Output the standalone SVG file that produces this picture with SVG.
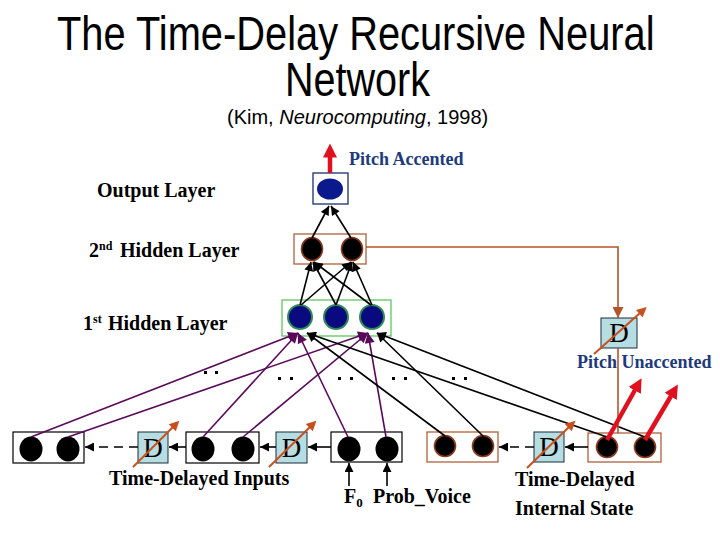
<svg xmlns="http://www.w3.org/2000/svg" width="720" height="540" viewBox="0 0 720 540">
<defs>
<style>
.ttl{font-family:"Liberation Sans",Arial,sans-serif;fill:#000}
.lbl{font-family:"Liberation Serif","Times New Roman",serif;font-weight:bold;font-size:20px;fill:#000}
.blue{font-family:"Liberation Serif","Times New Roman",serif;font-weight:bold;font-size:18px;fill:#1c3a7c}
.dl{font-family:"Liberation Serif","Times New Roman",serif;font-size:27px;fill:#000}
.box{fill:#fff;stroke:#000;stroke-width:1.2}
.bbox{fill:#fff;stroke:#b0603a;stroke-width:1.3}
.gbox{fill:#fff;stroke:#5cc85c;stroke-width:1.3}
.obox{fill:#fff;stroke:#1a2f6a;stroke-width:1.3}
.dbox{fill:#b5dde2;stroke:#1a2a3a;stroke-width:1}
.bn{fill:#000}
.brn{fill:#000;stroke:#8b3a1a;stroke-width:1.6}
.hn{fill:#0a0a80;stroke:#2e8b57;stroke-width:2}
.on{fill:#0a1a8c}
.k{stroke:#000;stroke-width:1.6;fill:none}
.p{stroke:#5a0a5a;stroke-width:1.6;fill:none}
.dash{stroke-dasharray:9 6}
.or{stroke:#c8501e;stroke-width:2;fill:none}
.br{stroke:#b5532a;stroke-width:1.6;fill:none}
.red{stroke:#e0101e;stroke-width:4.5;fill:none}
.dot{fill:#000}
</style>
<marker id="mk" viewBox="0 0 10 10" refX="10" refY="5" markerWidth="10" markerHeight="9" markerUnits="userSpaceOnUse" orient="auto"><path d="M0,0 L10,5 L0,10 z" fill="#000"/></marker>
<marker id="mp" viewBox="0 0 10 10" refX="10" refY="5" markerWidth="11" markerHeight="10" markerUnits="userSpaceOnUse" orient="auto"><path d="M0,0 L10,5 L0,10 z" fill="#5a0a5a"/></marker>
<marker id="mb" viewBox="0 0 10 10" refX="10" refY="5" markerWidth="12" markerHeight="11" markerUnits="userSpaceOnUse" orient="auto"><path d="M0,0 L10,5 L0,10 z" fill="#b5532a"/></marker>
<marker id="mo" viewBox="0 0 10 10" refX="1" refY="5" markerWidth="11" markerHeight="10" markerUnits="userSpaceOnUse" orient="auto"><path d="M0,0 L10,5 L0,10 z" fill="#c8501e"/></marker>
<marker id="mr" viewBox="0 0 14 14" refX="0.5" refY="7" markerWidth="14" markerHeight="16" markerUnits="userSpaceOnUse" orient="auto"><path d="M0,0 L14,7 L0,14 z" fill="#e0101e"/></marker>
</defs>
<rect width="720" height="540" fill="#fff"/>

<g id="title">
<text class="ttl" transform="translate(57,50) scale(0.83,1)" x="0" y="0" font-size="48">The Time-Delay Recursive Neural</text>
<text class="ttl" transform="translate(285,96) scale(0.824,1)" x="0" y="0" font-size="48">Network</text>
<text class="ttl" x="227" y="124" font-size="20">(Kim, <tspan font-style="italic">Neurocomputing</tspan>, 1998)</text>
</g>

<g id="labels">
<text class="lbl" x="97" y="197">Output Layer</text>
<text class="lbl" x="89" y="257">2<tspan font-size="12" dy="-7">nd</tspan></text>
<text class="lbl" x="120" y="257">Hidden Layer</text>
<text class="lbl" x="83" y="330">1<tspan font-size="12" dy="-7">st</tspan></text>
<text class="lbl" x="108" y="330">Hidden Layer</text>
<text class="blue" x="349" y="165">Pitch Accented</text>
<text class="blue" x="577" y="368">Pitch Unaccented</text>
<text class="lbl" x="109" y="485">Time-Delayed Inputs</text>
<text class="lbl" x="344" y="503">F<tspan font-size="13" dy="4">0</tspan></text>
<text class="lbl" x="373" y="503">Prob_Voice</text>
<text class="lbl" x="515" y="486">Time-Delayed</text>
<text class="lbl" x="515" y="515">Internal State</text>
</g>

<g id="output-layer">
<rect class="obox" x="313" y="173" width="35" height="31"/>
<ellipse class="on" cx="330" cy="189" rx="13" ry="10.5"/>
</g>

<g id="hidden2">
<rect class="bbox" x="294" y="234" width="72" height="30"/>
<ellipse class="brn" cx="312" cy="249" rx="10.5" ry="11.5"/>
<ellipse class="brn" cx="352" cy="249" rx="10.5" ry="11.5"/>
</g>

<g id="hidden1">
<rect class="gbox" x="282" y="300" width="109" height="36"/>
<ellipse class="hn" cx="300" cy="317" rx="12" ry="12"/>
<ellipse class="hn" cx="336" cy="317" rx="12" ry="12"/>
<ellipse class="hn" cx="372" cy="317" rx="12" ry="12"/>
</g>

<g id="delay-top">
<rect class="dbox" x="601" y="318" width="36" height="30"/>
<text class="dl" x="619" y="342" text-anchor="middle" font-size="26">D</text>
</g>

<g id="input-t2">
<rect class="box" x="13" y="432" width="71" height="31"/>
<ellipse class="bn" cx="31" cy="449" rx="11.5" ry="12.5"/>
<ellipse class="bn" cx="68" cy="449" rx="11.5" ry="12.5"/>
</g>
<g id="delay-1">
<rect class="dbox" x="138" y="432" width="30" height="31"/>
<text class="dl" x="153" y="457" text-anchor="middle">D</text>
</g>
<g id="input-t1">
<rect class="box" x="186" y="432" width="73" height="31"/>
<ellipse class="bn" cx="203" cy="449" rx="11.5" ry="12.5"/>
<ellipse class="bn" cx="243" cy="449" rx="11.5" ry="12.5"/>
</g>
<g id="delay-2">
<rect class="dbox" x="276" y="432" width="31" height="31"/>
<text class="dl" x="291.500" y="457" text-anchor="middle">D</text>
</g>
<g id="input-t0">
<rect class="box" x="331" y="432" width="71" height="30"/>
<ellipse class="bn" cx="349" cy="449" rx="11.5" ry="12.5"/>
<ellipse class="bn" cx="387" cy="449" rx="11.5" ry="12.5"/>
</g>
<g id="state-t2">
<rect class="bbox" x="427" y="432" width="71" height="30"/>
<ellipse class="brn" cx="445" cy="446" rx="10.5" ry="10.5"/>
<ellipse class="brn" cx="483" cy="446" rx="10.5" ry="10.5"/>
</g>
<g id="delay-3">
<rect class="dbox" x="534" y="432" width="30" height="30"/>
<text class="dl" x="549" y="456" text-anchor="middle">D</text>
</g>
<g id="state-t1">
<rect class="bbox" x="588" y="433" width="73" height="29"/>
<ellipse class="brn" cx="607" cy="447" rx="10.5" ry="10.5"/>
<ellipse class="brn" cx="645" cy="447" rx="10.5" ry="10.5"/>
</g>

<g id="ellipsis-dots">
<rect class="dot" x="204" y="371" width="3" height="3"/>
<rect class="dot" x="215" y="371" width="3" height="3"/>
<rect class="dot" x="278" y="377" width="3" height="3"/>
<rect class="dot" x="290" y="377" width="3" height="3"/>
<rect class="dot" x="338" y="377" width="3" height="3"/>
<rect class="dot" x="350" y="377" width="3" height="3"/>
<rect class="dot" x="392" y="377" width="3" height="3"/>
<rect class="dot" x="404" y="377" width="3" height="3"/>
<rect class="dot" x="452" y="377" width="3" height="3"/>
<rect class="dot" x="464" y="377" width="3" height="3"/>
</g>

<g id="connectors">
<line class="k" x1="312" y1="238" x2="329" y2="206" marker-end="url(#mk)"/>
<line class="k" x1="351" y1="238" x2="331" y2="206" marker-end="url(#mk)"/>
<line class="k" x1="300" y1="305" x2="311" y2="262" marker-end="url(#mk)"/>
<line class="k" x1="301" y1="305" x2="351" y2="262" marker-end="url(#mk)"/>
<line class="k" x1="336" y1="305" x2="313" y2="262" marker-end="url(#mk)"/>
<line class="k" x1="336" y1="305" x2="352" y2="262" marker-end="url(#mk)"/>
<line class="k" x1="371" y1="305" x2="314" y2="262" marker-end="url(#mk)"/>
<line class="k" x1="372" y1="305" x2="353" y2="262" marker-end="url(#mk)"/>

<line class="p" x1="31" y1="437" x2="298" y2="333" marker-end="url(#mp)"/>
<line class="p" x1="68" y1="437" x2="368" y2="333" marker-end="url(#mp)"/>
<line class="p" x1="203" y1="437" x2="298" y2="333" marker-end="url(#mp)"/>
<line class="p" x1="243" y1="437" x2="368" y2="333" marker-end="url(#mp)"/>
<line class="p" x1="348" y1="437" x2="298" y2="333" marker-end="url(#mp)"/>
<line class="p" x1="386" y1="437" x2="368" y2="333" marker-end="url(#mp)"/>

<line class="k" x1="445" y1="436" x2="307" y2="333" marker-end="url(#mk)"/>
<line class="k" x1="483" y1="436" x2="377" y2="333" marker-end="url(#mk)"/>
<line class="k" x1="607" y1="437" x2="307" y2="333" marker-end="url(#mk)"/>
<line class="k" x1="645" y1="437" x2="377" y2="333" marker-end="url(#mk)"/>

<line class="k dash" x1="138" y1="447" x2="85" y2="447" marker-end="url(#mk)"/>
<line class="k" x1="186" y1="447" x2="169" y2="447" marker-end="url(#mk)"/>
<line class="k" x1="276" y1="447" x2="260" y2="447" marker-end="url(#mk)"/>
<line class="k" x1="331" y1="447" x2="308" y2="447" marker-end="url(#mk)"/>
<line class="k dash" x1="534" y1="447" x2="499" y2="447" marker-end="url(#mk)"/>
<line class="k" x1="588" y1="447" x2="565" y2="447" marker-end="url(#mk)"/>

<line class="k" x1="349" y1="486" x2="349" y2="463" marker-end="url(#mk)"/>
<line class="k" x1="387" y1="486" x2="387" y2="463" marker-end="url(#mk)"/>

<polyline class="br" points="366,247 618,247 618,318" marker-end="url(#mb)"/>
<line class="br" x1="618" y1="348" x2="618" y2="433"/>

<line class="or" x1="133" y1="467" x2="173" y2="427" marker-end="url(#mo)"/>
<line class="or" x1="269" y1="467" x2="310" y2="427" marker-end="url(#mo)"/>
<line class="or" x1="527" y1="468" x2="569" y2="427" marker-end="url(#mo)"/>
<line class="or" x1="594" y1="354" x2="640" y2="313" marker-end="url(#mo)"/>

<line class="red" x1="330" y1="173" x2="330" y2="157" marker-end="url(#mr)"/>
<line class="red" x1="607" y1="440" x2="635" y2="390" marker-end="url(#mr)"/>
<line class="red" x1="645" y1="440" x2="671" y2="396" marker-end="url(#mr)"/>
</g>
</svg>
